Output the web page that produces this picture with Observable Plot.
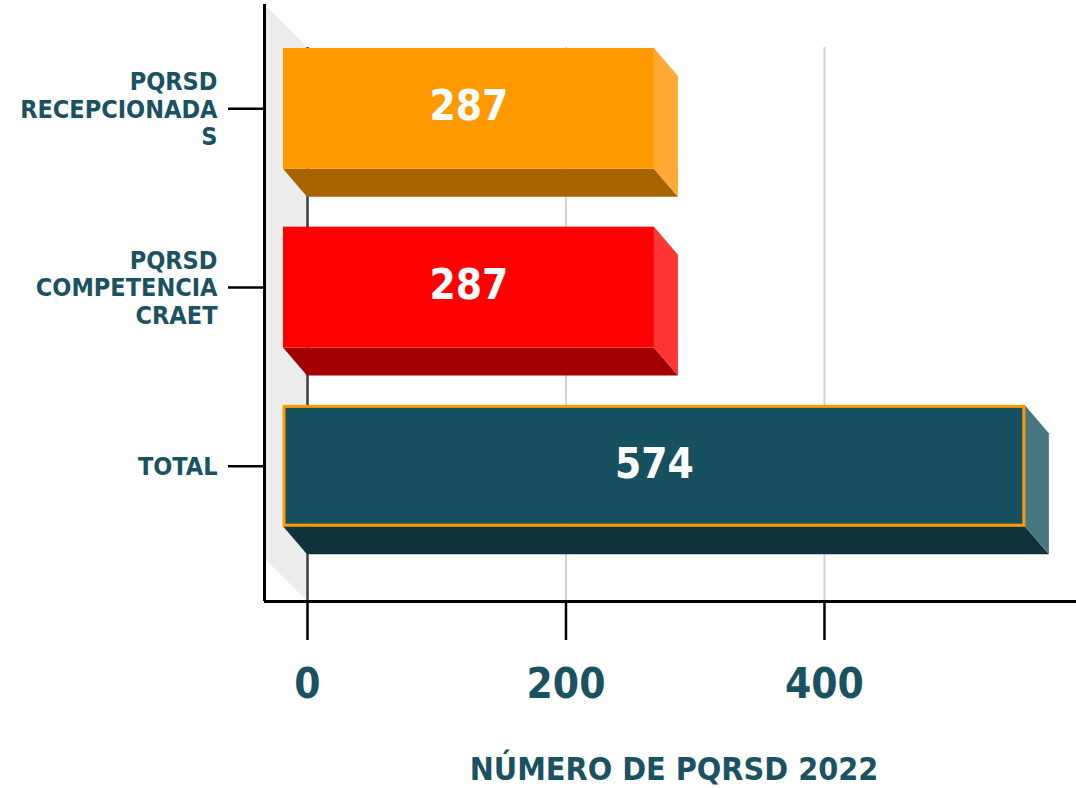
<!DOCTYPE html>
<html>
<head>
<meta charset="utf-8">
<script src="https://cdn.jsdelivr.net/npm/d3@7"></script>
<script src="https://cdn.jsdelivr.net/npm/@observablehq/plot@0.6"></script>
<style>
  html, body { margin: 0; padding: 0; background: #fff; }
  #wrap { position: relative; width: 1076px; height: 788px; font-family: "DejaVu Sans Condensed", "DejaVu Sans", sans-serif; }
  #caption { position: absolute; left: 264px; width: 820px; top: 753px; text-align: center;
             font-size: 32px; line-height: 32px; font-weight: bold; color: #1A5261; white-space: nowrap; }
</style>
</head>
<body>
<div id="wrap">
  <div id="chart"></div>
  <div id="caption">NÚMERO DE PQRSD 2022</div>
</div>
<script>
// ---- data ----
const categories = ["PQRSD RECEPCIONADAS", "PQRSD COMPETENCIA CRAET", "TOTAL"];
const categoryTickLabels = ["PQRSD\nRECEPCIONADA\nS", "PQRSD\nCOMPETENCIA\nCRAET", "TOTAL"];
const values = [287, 287, 574];
const xTicks = [0, 200, 400];

// ---- style ----
const frontColors  = ["#FF9900", "#FF0000", "#17505E"];
const sideColors   = ["#FFAB33", "#FF3535", "#46767F"];
const bottomColors = ["#A86400", "#A30000", "#0F333B"];
const textColor = "#1A5261";
const fontFamily = '"DejaVu Sans Condensed", "DejaVu Sans", sans-serif';

// ---- layout ----
const W = 1076, H = 735;
const mLeft = 264, mRight = 0, mTop = 4, mBottom = 134;
const plotW = W - mLeft - mRight, plotH = H - mTop - mBottom;
const xMax = 595;
const yTopBack = -0.5, yFloor = 2.6;     // back plane extent in category-index units
const wallPx = 43;                       // depth of left wall (px)
const boxDxPx = 24, boxDyPx = 28;        // depth of bars (px)
const kx = (plotW - wallPx) / xMax;
const ky = (plotH - wallPx) / (yFloor - yTopBack);
const dXw = wallPx / kx, dYw = wallPx / ky;
const dxu = boxDxPx / kx, dyu = boxDyPx / ky;
const h = 0.338;                          // half bar thickness

const rows = categories.map((c, i) => ({cat: c, i, v: values[i]}));

const wallPts = [
  {x: 0, y1: yTopBack, y2: yFloor},
  {x: -dXw, y1: yTopBack - dYw, y2: yFloor - dYw}
];
const bottomPts = rows.flatMap(d => [
  {i: d.i, y: d.i + h - dyu, x1: -dxu, x2: d.v - dxu},
  {i: d.i, y: d.i + h, x1: 0, x2: d.v}
]);
const sidePts = rows.flatMap(d => [
  {i: d.i, x: d.v - dxu, y1: d.i - h - dyu, y2: d.i + h - dyu},
  {i: d.i, x: d.v, y1: d.i - h, y2: d.i + h}
]);

const chart = Plot.plot({
  width: W, height: H,
  marginLeft: mLeft, marginRight: mRight, marginTop: mTop, marginBottom: mBottom,
  style: {fontFamily, background: "white", overflow: "visible"},
  x: {domain: [-dXw, xMax], label: null},
  y: {domain: [yTopBack - dYw, yFloor], reverse: true, label: null},
  color: {type: "identity"},
  marks: [
    // left wall
    Plot.areaY(wallPts, {x: "x", y1: "y1", y2: "y2", fill: "#ECECEC"}),
    // back gridlines
    Plot.ruleX(xTicks.filter(t => t > 0), {y1: yTopBack, y2: yFloor, stroke: "#D3D3D3", strokeWidth: 2}),
    Plot.ruleX([0], {y1: yTopBack, y2: yFloor, stroke: "#3C3C3C", strokeWidth: 2.5}),
    // bar bottom faces
    Plot.areaX(bottomPts, {y: "y", x1: "x1", x2: "x2", z: "i", fill: d => bottomColors[d.i], curve: "linear"}),
    // bar side faces
    Plot.areaY(sidePts, {x: "x", y1: "y1", y2: "y2", z: "i", fill: d => sideColors[d.i], curve: "linear"}),
    // bar front faces
    Plot.rect(rows, {
      x1: () => -dxu, x2: d => d.v - dxu,
      y1: d => d.i - h - dyu, y2: d => d.i + h - dyu,
      fill: d => frontColors[d.i]
    }),
    Plot.rect(rows.filter(d => d.cat === "TOTAL"), {
      x1: () => -dxu, x2: d => d.v - dxu,
      y1: d => d.i - h - dyu, y2: d => d.i + h - dyu,
      fill: "none", stroke: "#FF9900", strokeWidth: 3, inset: 1
    }),
    // value labels
    Plot.text(rows, {
      x: d => d.v / 2 - dxu, y: d => d.i - dyu, text: d => String(d.v),
      fill: "white", fontSize: 42, fontWeight: "bold", dy: -2
    }),
    // front axis lines
    Plot.ruleX([-dXw], {y1: yTopBack - dYw, y2: yFloor, stroke: "black", strokeWidth: 3}),
    Plot.ruleY([yFloor], {x1: -dXw, x2: xMax, stroke: "black", strokeWidth: 3}),
    // axes
    Plot.axisX({
      ticks: xTicks, tickSize: 39, tickPadding: 28, label: null,
      fontSize: 42, fontWeight: "bold", fill: textColor, stroke: "black", strokeWidth: 2.5
    }),
    Plot.axisY({
      ticks: [0, 1, 2], tickFormat: i => categoryTickLabels[i],
      tickSize: 36, tickPadding: 11, label: null, dy: -boxDyPx,
      fontSize: 25, fontWeight: "bold", lineHeight: 1.1,
      fill: textColor, stroke: "black", strokeWidth: 2.5
    })
  ]
});
document.getElementById("chart").appendChild(chart);
</script>
</body>
</html>
